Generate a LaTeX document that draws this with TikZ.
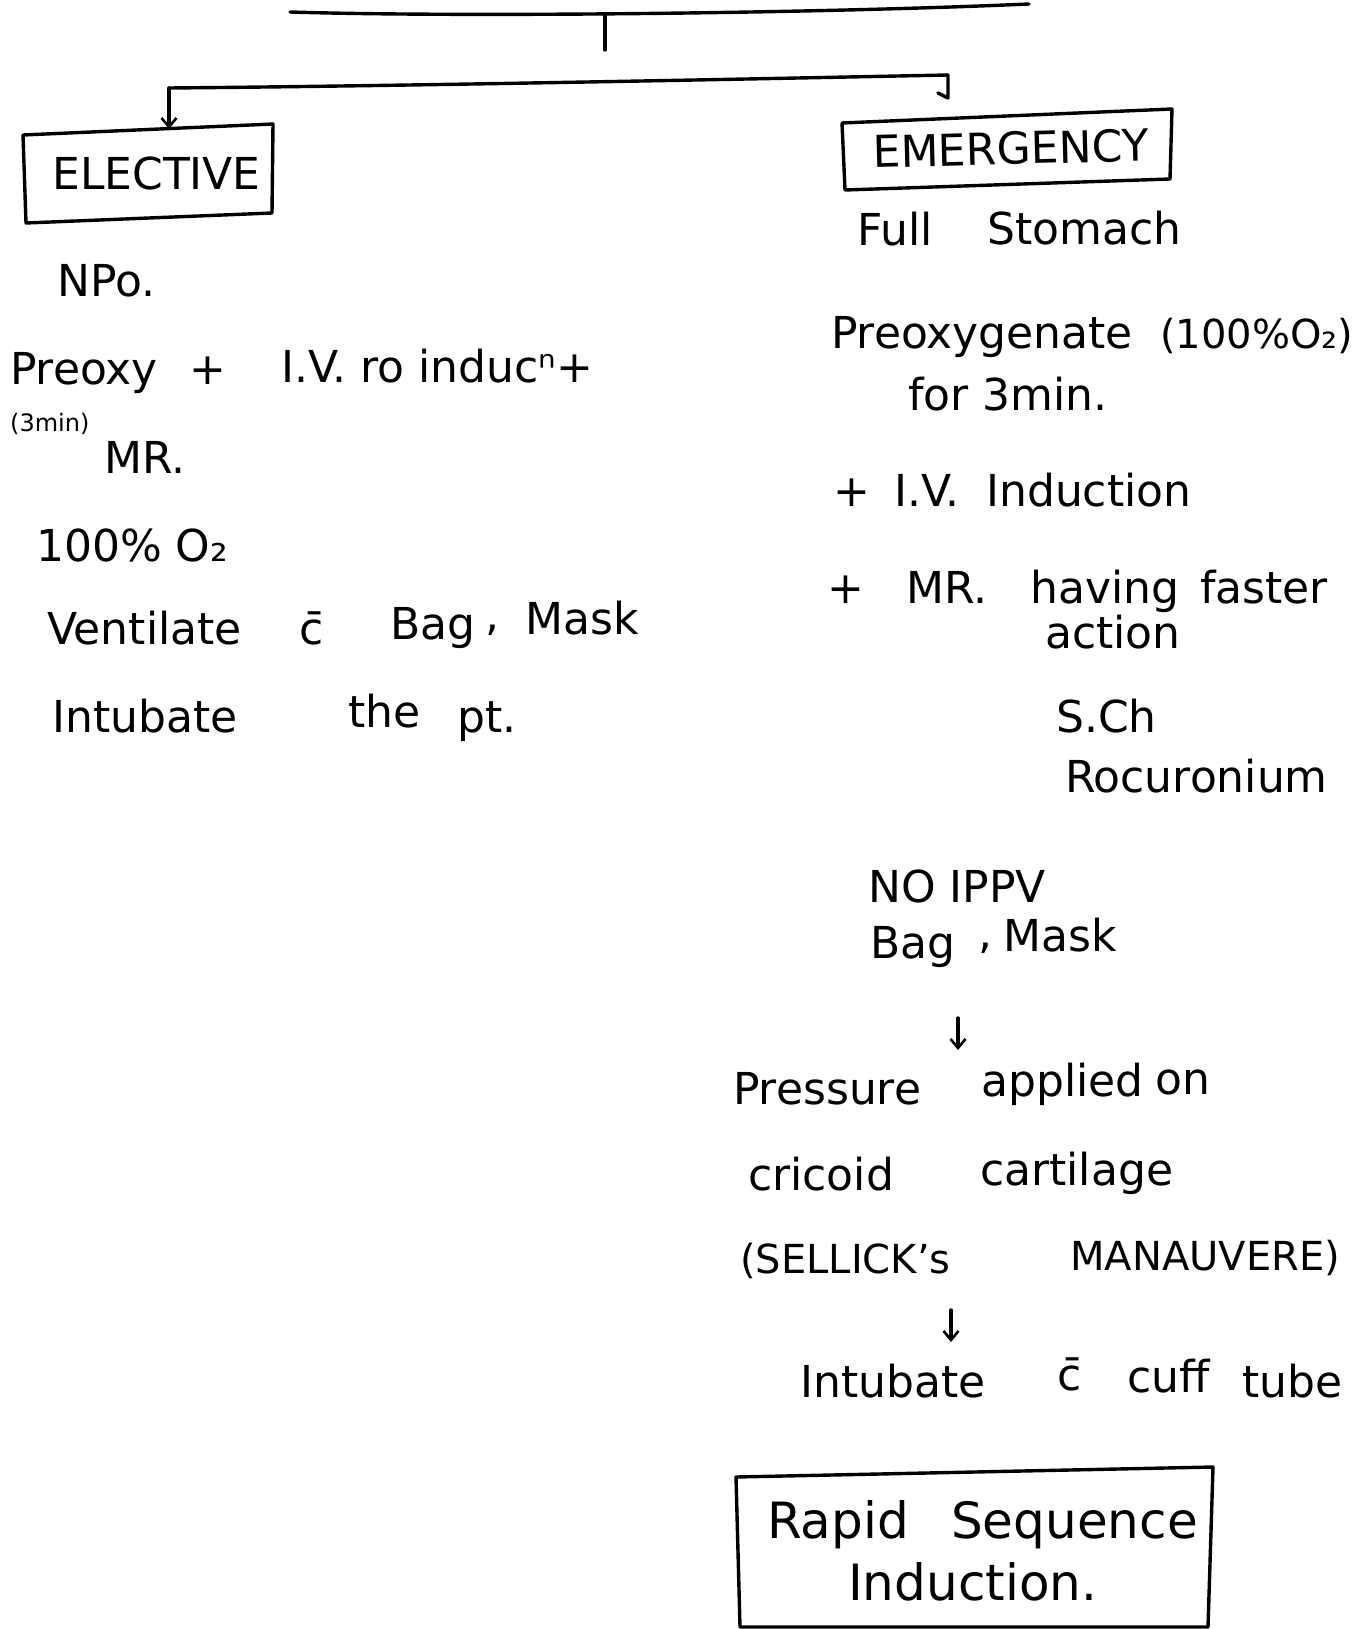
\documentclass[tikz,border=0pt]{standalone}
\usepackage{fontspec}
\setmainfont{DejaVu Sans}
\usetikzlibrary{arrows.meta}
\begin{document}
\begin{tikzpicture}[x=1pt,y=-1pt,
  hw/.style={inner sep=0pt, font=\fontsize{44}{48}\selectfont, anchor=base west},
  hwsmall/.style={hw, font=\fontsize{24}{26}\selectfont},
  hwcap/.style={hw, font=\fontsize{40}{44}\selectfont},
  hwmid/.style={hw, font=\fontsize{40}{44}\selectfont},
  hwbig/.style={hw, font=\fontsize{50}{54}\selectfont},
  ink/.style={line width=3.4pt, line cap=round, line join=round},
  arr/.style={ink, -{Straight Barb[length=9pt,width=15pt,line width=2.6pt]}}]
\useasboundingbox (0,0) rectangle (1353,1629);

% top bar and tick
\coordinate (topL) at (290,12);
\coordinate (topM) at (605,14);
\coordinate (topR) at (1029,4);
\draw[ink] (topL) .. controls (450,17) and (800,14) .. (topR);
\coordinate (tickB) at (605,50);
\draw[ink] (topM) -- (tickB);

% branch line
\coordinate (brL) at (169,88);
\coordinate (brR) at (948,75);
\draw[ink] (brL) .. controls (400,86) and (700,80) .. (brR);
\coordinate (elTop) at (169,129);
\draw[arr] (brL) -- (elTop);
\coordinate (emHook) at (948,98);
\coordinate (emHookEnd) at (938,93);
\draw[ink] (brR) -- (emHook) -- (emHookEnd);

% ELECTIVE box
\coordinate (e1) at (23,135);
\coordinate (e2) at (273,124);
\coordinate (e3) at (272,213);
\coordinate (e4) at (26,223);
\draw[ink] (e1) -- (e2) -- (e3) -- (e4) -- cycle;
\node[hw] (elective) at (52,190) {ELECTIVE};

% EMERGENCY box
\coordinate (m1) at (842,123);
\coordinate (m2) at (1172,109);
\coordinate (m3) at (1170,179);
\coordinate (m4) at (845,190);
\draw[ink] (m1) -- (m2) -- (m3) -- (m4) -- cycle;
\node[hw, rotate=1.5] (emergency) at (873,168) {EMERGENCY};

% left column
\node[hw] (npo) at (57,296) {NPo.};
\node[hw] (preoxy) at (10,384) {Preoxy};
\node[hw, anchor=base] (plusA) at (208,384) {+};
\node[hw] (ivA) at (281,382) {I.V. ro inducⁿ+};
\node[hwsmall] (threemin) at (10,431) {(3min)};
\node[hw] (mrA) at (104,473) {MR.};
\node[hw] (oxA) at (36,561) {100\% O₂};
\node[hw] (vent) at (47,644) {Ventilate};
\node[hw, anchor=base] (withA) at (312,644) {\=c};
\node[hw] (bagA) at (390,639) {Bag};
\node[hw] (commaA) at (485,630) {,};
\node[hw] (maskA) at (525,634) {Mask};
\node[hw] (intA) at (52,732) {Intubate};
\node[hw] (theA) at (348,727) {the};
\node[hw] (ptA) at (457,732) {pt.};

% right column
\node[hw] (full) at (857,246) {Full};
\node[hw] (stomach) at (987,244) {Stomach};
\node[hw] (preoxB) at (831,348) {Preoxygenate};
\node[hwmid] (oxB) at (1160,348) {(100\%O₂)};
\node[hw] (for3) at (908,410) {for 3min.};
\node[hw, anchor=base] (plusB) at (852,506) {+};
\node[hw] (ivB) at (894,506) {I.V.};
\node[hw] (inducB) at (986,506) {Induction};
\node[hw, anchor=base] (plusC) at (846,603) {+};
\node[hw] (mrB) at (906,603) {MR.};
\node[hw] (having) at (1030,603) {having};
\node[hw] (faster) at (1200,603) {faster};
\node[hw] (action) at (1045,648) {action};
\node[hw] (sch) at (1056,732) {S.Ch};
\node[hw] (rocu) at (1065,792) {Rocuronium};
\node[hw] (noippv) at (868,902) {NO IPPV};
\node[hw] (bagB) at (870,958) {Bag};
\node[hw] (commaB) at (978,948) {,};
\node[hw] (maskB) at (1003,951) {Mask};
\coordinate (a1s) at (958,1018);
\coordinate (a1e) at (958,1050);
\draw[arr] (a1s) -- (a1e);
\node[hw] (pressure) at (733,1104) {Pressure};
\node[hw] (applied) at (981,1096) {applied};
\node[hw] (on) at (1155,1094) {on};
\node[hw] (cricoid) at (748,1190) {cricoid};
\node[hw] (cartilage) at (980,1185) {cartilage};
\node[hwcap] (sellick) at (740,1273) {(SELLICK's};
\node[hwcap] (manauvere) at (1070,1270) {MANAUVERE)};
\coordinate (a2s) at (951,1310);
\coordinate (a2e) at (951,1342);
\draw[arr] (a2s) -- (a2e);
\node[hw] (intB) at (800,1397) {Intubate};
\node[hw, anchor=base] (withB) at (1070,1390) {\=c};
\node[hw] (cuff) at (1127,1392) {cuff};
\node[hw] (tube) at (1242,1397) {tube};

% Rapid Sequence Induction box
\coordinate (r1) at (736,1477);
\coordinate (r2) at (1213,1467);
\coordinate (r3) at (1208,1627);
\coordinate (r4) at (740,1627);
\draw[ink] (r1) -- (r2) -- (r3) -- (r4) -- cycle;
\node[hwbig] (rapid) at (767,1538) {Rapid};
\node[hwbig] (sequence) at (951,1538) {Sequence};
\node[hwbig] (induction) at (848,1600) {Induction.};
\end{tikzpicture}
\end{document}
